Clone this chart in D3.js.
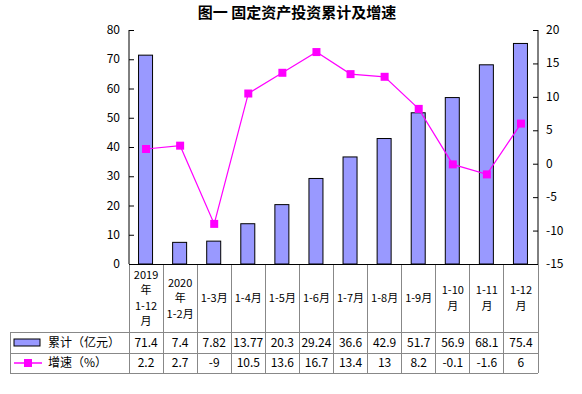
<!DOCTYPE html>
<html>
<head>
<meta charset="utf-8">
<script src="https://cdn.jsdelivr.net/npm/d3@7"></script>
<style>
  body { margin: 0; background: #fff; }
  svg text { font-family: "Noto Sans CJK SC", "DejaVu Sans", sans-serif; font-size: 12px; fill: #000; }
</style>
</head>
<body>
<div id="chart"></div>
<script>
// data
var categories = [
  ["2019", "年", "1-12", "月"],
  ["2020", "年", "1-2月"],
  ["1-3月"], ["1-4月"], ["1-5月"], ["1-6月"], ["1-7月"], ["1-8月"], ["1-9月"],
  ["1-10", "月"], ["1-11", "月"], ["1-12", "月"]
];
var totals = [71.4, 7.4, 7.82, 13.77, 20.3, 29.24, 36.6, 42.9, 51.7, 56.9, 68.1, 75.4];
var growth = [2.2, 2.7, -9, 10.5, 13.6, 16.7, 13.4, 13, 8.2, -0.1, -1.6, 6];
var leftTicks = [0, 10, 20, 30, 40, 50, 60, 70, 80];
var rightTicks = [-15, -10, -5, 0, 5, 10, 15, 20];
var seriesNames = ["累计（亿元）", "增速（%）"];

var W = 582, H = 394;
var plotL = 129, plotR = 538, plotT = 30, plotB = 264;
var tableLeft = 10, rowHeader = 332, row1 = 353, row2 = 373;

var svg = d3.select("#chart").append("svg").attr("width", W).attr("height", H);

svg.append("text")
  .attr("x", 297).attr("y", 18)
  .attr("text-anchor", "middle")
  .style("font-size", "15px").style("font-weight", "bold")
  .text("图一  固定资产投资累计及增速");

var x = d3.scaleBand().domain(d3.range(categories.length)).range([plotL, plotR]);
var yL = d3.scaleLinear().domain([0, 80]).range([plotB, plotT]);
var yR = d3.scaleLinear().domain([-15, 20]).range([plotB, plotT]);

// bars
svg.append("g").selectAll("rect").data(totals).enter().append("rect")
  .attr("x", (d, i) => x(i) + x.bandwidth() / 2 - 7.5)
  .attr("width", 14)
  .attr("y", d => yL(d))
  .attr("height", d => yL(0) - yL(d))
  .attr("fill", "#9999ff")
  .attr("stroke", "#000")
  .attr("stroke-width", 1);

// axes
var axL = svg.append("g").attr("transform", "translate(" + plotL + ",0)")
  .call(d3.axisRight(yL).tickValues(leftTicks).tickSize(5).tickFormat(""));
axL.select(".domain").attr("d", "M0," + plotT + "V" + plotB);
svg.append("g").selectAll("text").data(leftTicks).enter().append("text")
  .attr("x", 120).attr("y", d => yL(d) + 4)
  .attr("text-anchor", "end").text(d => d);

var axR = svg.append("g").attr("transform", "translate(" + plotR + ",0)")
  .call(d3.axisLeft(yR).tickValues(rightTicks).tickSize(5).tickFormat(""));
axR.select(".domain").attr("d", "M0," + plotT + "V" + plotB);
svg.append("g").selectAll("text").data(rightTicks).enter().append("text")
  .attr("x", 546).attr("y", d => yR(d) + 4)
  .text(d => d);

svg.selectAll(".domain, .tick line").attr("stroke", "#000");

// line
var line = d3.line().x((d, i) => x(i) + x.bandwidth() / 2).y(d => yR(d));
svg.append("path").datum(growth)
  .attr("d", line).attr("fill", "none")
  .attr("stroke", "#ff00ff").attr("stroke-width", 1.2);
svg.append("g").selectAll("rect").data(growth).enter().append("rect")
  .attr("x", (d, i) => x(i) + x.bandwidth() / 2 - 4)
  .attr("y", d => yR(d) - 4)
  .attr("width", 8).attr("height", 8)
  .attr("fill", "#ff00ff");

// data table
var grid = svg.append("g").attr("stroke", "#888").attr("stroke-width", 1).attr("shape-rendering", "crispEdges");
[rowHeader, row1, row2].forEach(function(yy) {
  grid.append("line").attr("x1", tableLeft).attr("x2", plotR).attr("y1", yy).attr("y2", yy);
});
grid.append("line").attr("x1", tableLeft).attr("x2", tableLeft).attr("y1", rowHeader).attr("y2", row2);
d3.range(categories.length + 1).forEach(function(i) {
  var xx = i < categories.length ? x(i) : plotR;
  grid.append("line").attr("x1", xx).attr("x2", xx).attr("y1", plotB).attr("y2", row2);
});
svg.append("line").attr("x1", plotL).attr("x2", plotR).attr("y1", plotB).attr("y2", plotB)
  .attr("stroke", "#000").attr("shape-rendering", "crispEdges");

// category labels, wrapped like the original
categories.forEach(function(lines, i) {
  var cx = x(i) + x.bandwidth() / 2;
  var lh = 15.5;
  var y0 = (plotB + rowHeader) / 2 - (lines.length - 1) * lh / 2 + 4;
  lines.forEach(function(t, j) {
    svg.append("text").attr("x", cx).attr("y", y0 + j * lh)
      .attr("text-anchor", "middle").style("font-size", "11px").text(t);
  });
});

[totals, growth].forEach(function(vals, r) {
  var yy = (r == 0 ? (rowHeader + row1) / 2 : (row1 + row2) / 2) + 4;
  vals.forEach(function(v, i) {
    svg.append("text").attr("x", x(i) + x.bandwidth() / 2).attr("y", yy)
      .attr("text-anchor", "middle").text(v);
  });
  svg.append("text").attr("x", 48).attr("y", yy).text(seriesNames[r]);
});

// legend keys
svg.append("rect").attr("x", 14).attr("y", 339).attr("width", 26).attr("height", 7)
  .attr("fill", "#9999ff").attr("stroke", "#000");
var ly = (row1 + row2) / 2;
svg.append("line").attr("x1", 14).attr("x2", 42).attr("y1", ly).attr("y2", ly)
  .attr("stroke", "#ff00ff").attr("stroke-width", 1.5);
svg.append("rect").attr("x", 24).attr("y", ly - 4).attr("width", 8).attr("height", 8)
  .attr("fill", "#ff00ff");
</script>
</body>
</html>
